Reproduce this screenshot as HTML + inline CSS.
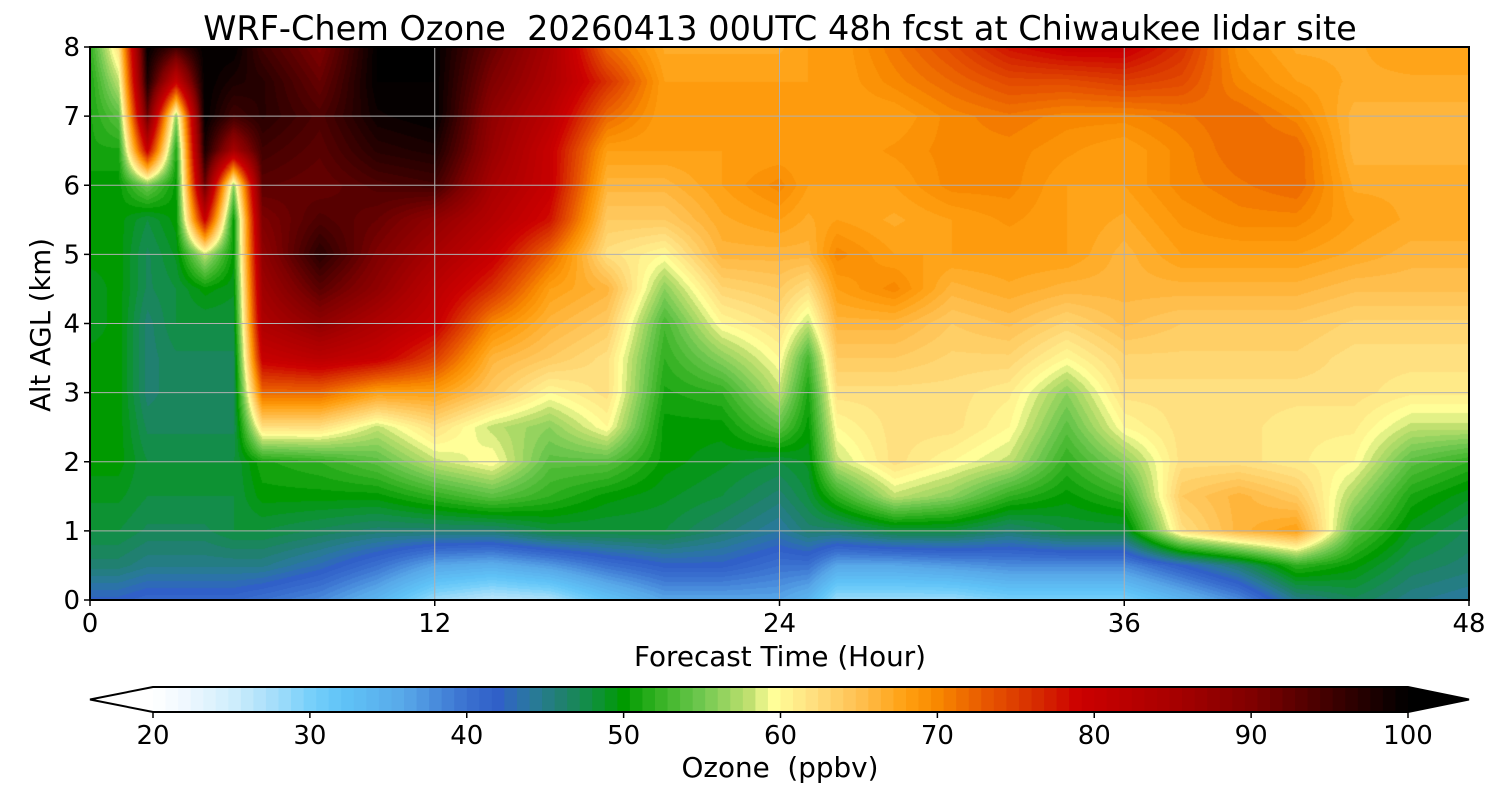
<!DOCTYPE html>
<html><head><meta charset="utf-8">
<style>
body{margin:0;background:#fff;width:1500px;height:800px;overflow:hidden;font-family:"DejaVu Sans",sans-serif;}
#wrap{position:relative;width:1500px;height:800px;}
canvas{position:absolute;left:90px;top:47px;}
svg{position:absolute;left:0;top:0;font-family:"DejaVu Sans",sans-serif;}
</style></head><body>
<div id="wrap">
<canvas id="cv" width="1379" height="553"></canvas>
<svg id="sv" width="1500" height="800"></svg>
</div>
<script>
// data
const hours = [0,1,2,3,4,5,6,8,10,12,14,16,18,20,22,24,25,26,28,30,32,34,36,38,40,42,44,46,48];
const levelsKm = [0,0.5,1,1.5,2,2.5,3,3.5,4,4.5,5,5.5,6,6.5,7,7.5,8];
const ozone = [
[42,46,48,49,50,50,50,50,49,49,50,50,50,51,51,51,52],
[42,46,48,49,50,50,50,50,50,50,50,50,50,51,54,58,62],
[41,45,47,48,48,47,46,46,46,47,47,48,55,80,92,98,100],
[41,45,47,48,48,47,47,47,48,48,49,50,50,51,56,80,95],
[41,45,47,48,48,47,47,47,48,50,58,80,92,98,100,100,100],
[41,45,48,48,48,47,47,47,48,49,50,50,56,85,95,98,100],
[40,45,48,50,51,62,72,80,84,86,88,90,93,95,97,97,95],
[38,43,47,50,52,62,72,82,88,93,97,94,92,93,94,92,90],
[34,40,46,50,54,58,68,80,84,88,90,92,94,97,99,100,100],
[28,36,46,52,58,62,68,75,80,82,85,88,95,98,100,100,100],
[26,35,46,54,60,58,64,66,70,76,80,83,85,87,88,90,92],
[27,37,48,52,54,56,60,64,66,68,72,78,80,80,82,84,85],
[32,40,48,50,54,60,62,62,64,66,62,64,66,68,72,76,72],
[36,42,48,49,50,50,51,52,53,56,60,64,66,68,68,68,67],
[36,42,46,48,49,50,52,56,60,63,66,67,68,68,68,68,67],
[36,40,44,46,48,54,58,60,62,64,66,68,70,68,68,68,67],
[34,40,46,48,49,50,51,53,58,62,66,67,68,68,68,68,68],
[28,36,46,52,58,60,62,64,66,68,70,68,68,68,68,68,68],
[28,36,48,58,62,62,62,64,66,70,68,67,68,69,68,70,71],
[28,37,48,56,60,62,62,63,64,66,68,68,70,70,70,72,74],
[30,38,46,52,58,60,61,63,65,67,68,69,70,70,71,74,78],
[30,38,48,50,52,54,56,60,63,66,68,68,68,69,70,74,80],
[30,38,48,52,56,60,62,63,65,66,66,67,68,68,70,75,80],
[34,42,62,64,62,62,62,63,64,66,68,69,70,70,71,74,76],
[38,46,66,66,62,62,62,63,64,66,68,70,71,72,72,70,69],
[45,52,68,64,61,61,62,63,64,66,68,70,72,72,70,68,67],
[47,50,54,57,60,61,62,62,63,65,67,68,67,66,66,67,67],
[45,47,49,51,54,58,61,62,63,65,66,67,67,66,66,67,68],
[44,46,47,49,52,58,61,62,63,65,66,67,67,66,66,67,68]
];
const xTicks = [0,12,24,36,48];
const yTicks = [0,1,2,3,4,5,6,7,8];
const cbTicks = [20,30,40,50,60,70,80,90,100];

const stops=[[20,'#ffffff'],[22,'#f0f8ff'],[25,'#d0eefc'],[28,'#a0dcfa'],[30,'#78d0fa'],[32,'#60c4f8'],[36,'#58a8e8'],[40,'#3a70d0'],[42,'#3060c8'],[44,'#2a78a0'],[46,'#208070'],[48,'#109040'],[50,'#009a00'],[52,'#30b020'],[55,'#70c850'],[58,'#c0e070'],[59.5,'#ffff99'],[62,'#ffe080'],[65,'#ffc050'],[68,'#ffa010'],[70,'#f88800'],[73,'#e85800'],[76,'#d83000'],[79,'#cc0000'],[85,'#a80000'],[90,'#800000'],[95,'#400000'],[100,'#000000']];
function hex(h){return [parseInt(h.substr(1,2),16),parseInt(h.substr(3,2),16),parseInt(h.substr(5,2),16)];}
const stopsRGB=stops.map(s=>[s[0],hex(s[1])]);
function cmap(v){
  v=Math.max(20,Math.min(100,v));
  for(let i=0;i<stopsRGB.length-1;i++){const a=stopsRGB[i],b=stopsRGB[i+1];
    if(v<=b[0]){const t=(v-a[0])/(b[0]-a[0]);return [0,1,2].map(k=>Math.round(a[1][k]+(b[1][k]-a[1][k])*t));}}
  return [0,0,0];
}
const STEP=0.8;
function quant(v){return 20+(Math.floor((v-20)/STEP)+0.5)*STEP;}

const PX=90,PY=47,PW=1379,PH=553;
const xs=h=>PX+h/48*PW, ys=k=>PY+PH-k/8*PH;

// heatmap
const cv=document.getElementById('cv'),ctx=cv.getContext('2d');
const img=ctx.createImageData(PW,PH);
for(let px=0;px<PW;px++){
  const h=(px+0.5)/PW*48;
  let i=0;while(i<hours.length-2&&h>hours[i+1])i++;
  const tx=(h-hours[i])/(hours[i+1]-hours[i]);
  for(let py=0;py<PH;py++){
    const k=(PH-py-0.5)/PH*8;
    let j=Math.min(levelsKm.length-2,Math.floor(k/0.5));
    const ty=(k-levelsKm[j])/(levelsKm[j+1]-levelsKm[j]);
    const v=(ozone[i][j]*(1-tx)+ozone[i+1][j]*tx)*(1-ty)+(ozone[i][j+1]*(1-tx)+ozone[i+1][j+1]*tx)*ty;
    const c=cmap(quant(v));const o=(py*PW+px)*4;
    img.data[o]=c[0];img.data[o+1]=c[1];img.data[o+2]=c[2];img.data[o+3]=255;
  }
}
ctx.putImageData(img,0,0);

// svg overlay
const sv=document.getElementById('sv');const NS='http://www.w3.org/2000/svg';
function el(t,a,txt){const e=document.createElementNS(NS,t);for(const k in a)e.setAttribute(k,a[k]);if(txt!==undefined)e.textContent=txt;sv.appendChild(e);return e;}
xTicks.forEach(t=>{
  const g=el('line',{x1:xs(t),x2:xs(t),y1:PY,y2:PY+PH,stroke:'#b0b0b0','stroke-width':1});
  
  
  const tk=el('line',{x1:xs(t),x2:xs(t),y1:PY+PH,y2:PY+PH+6,stroke:'#000','stroke-width':1.5});
  
  
  const lb=el('text',{x:xs(t),y:632,'font-size':26,'text-anchor':'middle'},String(t));
  
  
});
yTicks.forEach(t=>{
  const g=el('line',{x1:PX,x2:PX+PW,y1:ys(t),y2:ys(t),stroke:'#b0b0b0','stroke-width':1});
  
  
  const tk=el('line',{x1:PX-6,x2:PX,y1:ys(t),y2:ys(t),stroke:'#000','stroke-width':1.5});
  
  
  const lb=el('text',{x:80,y:ys(t)+9,'font-size':26,'text-anchor':'end'},String(t));
  
  
});
const fr=el('rect',{x:PX,y:PY,width:PW,height:PH,fill:'none',stroke:'#000','stroke-width':2});



// colorbar
const CB0=153,CB1=1408,CBY=687,CBH=25;
const cx=v=>CB0+(v-20)/80*(CB1-CB0);
for(let v=20;v<100-0.01;v+=STEP){
  const c=cmap(v+STEP/2);
  const r=el('rect',{x:cx(v),y:CBY,width:cx(v+STEP)-cx(v)+0.6,height:CBH,fill:'rgb('+c.join(',')+')'});
  
  
}
const tl=el('polygon',{points:`${CB0},${CBY} 90,${CBY+CBH/2} ${CB0},${CBY+CBH}`,fill:'#fff'});


const tr=el('polygon',{points:`${CB1},${CBY} 1469,${CBY+CBH/2} ${CB1},${CBY+CBH}`,fill:'#000'});


const ol=el('polygon',{points:`${CB0},${CBY} 90,${CBY+CBH/2} ${CB0},${CBY+CBH} ${CB1},${CBY+CBH} 1469,${CBY+CBH/2} ${CB1},${CBY}`,fill:'none',stroke:'#000','stroke-width':2});


cbTicks.forEach(t=>{
  const tk=el('line',{x1:cx(t),x2:cx(t),y1:CBY+CBH,y2:CBY+CBH+6,stroke:'#000','stroke-width':1.5});
  
  
  const lb=el('text',{x:cx(t),y:744,'font-size':26,'text-anchor':'middle'},String(t));
  
  
});
</script>
<svg width="1500" height="800" style="position:absolute;left:0;top:0;pointer-events:none">
<text x="780" y="40" font-size="33.5" text-anchor="middle" xml:space="preserve">WRF-Chem Ozone  20260413 00UTC 48h fcst at Chiwaukee lidar site</text>
<text x="780" y="666" font-size="27.8" text-anchor="middle">Forecast Time (Hour)</text>
<text x="50" y="325" font-size="27.5" text-anchor="middle" transform="rotate(-90 50 325)">Alt AGL (km)</text>
<text x="780" y="777" font-size="27.8" text-anchor="middle" xml:space="preserve">Ozone  (ppbv)</text>
</svg>
</body></html>
